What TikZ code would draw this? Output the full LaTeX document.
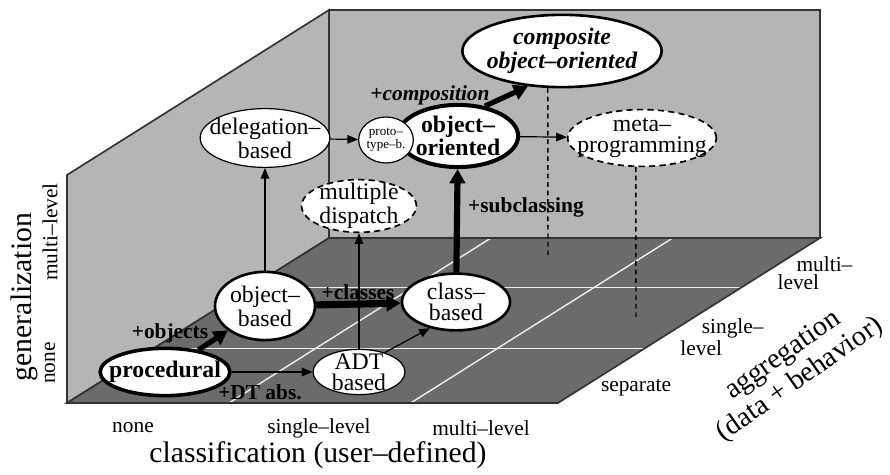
\documentclass[tikz,border=0pt]{standalone}
\usepackage{fontspec}
\setmainfont{Liberation Serif}
\usetikzlibrary{shapes.geometric, arrows.meta, calc}

\definecolor{wallgray}{gray}{0.71}
\definecolor{floorgray}{gray}{0.42}
\definecolor{gridwhite}{gray}{0.93}
\definecolor{edgegray}{gray}{0.2}

\begin{document}
\begin{tikzpicture}[x=1.48mm, y=1.48mm,
  para/.style={draw, ellipse, fill=white, align=center, inner xsep=-6pt, inner ysep=-3pt, line width=0.5pt, font={\fontsize{10}{9}\selectfont}},
  strongpara/.style={para, line width=1.1pt},
  corepara/.style={para, line width=1.5pt, font={\fontsize{10}{9.5}\selectfont\bfseries}},
  dashpara/.style={para, line width=0.7pt, dash pattern=on 2.6pt off 1.8pt},
  thinarrow/.style={-{Triangle[length=4.5pt, width=3.6pt]}, line width=0.5pt},
  boldarrow/.style={-{Triangle[length=6pt, width=6.5pt]}, line width=2.2pt},
  dropline/.style={line width=0.6pt, dash pattern=on 2pt off 1.6pt},
  steplabel/.style={font=\small\bfseries},
  axislabel/.style={font={\fontsize{9}{7.5}\selectfont}},
  axistitle/.style={font={\fontsize{12.5}{13}\selectfont}}]
\useasboundingbox (0,0) rectangle (89,47.5);

% corners of the box: floor, side wall, back wall
\coordinate (fl) at (6.7,7.2);
\coordinate (fr) at (55.8,7.2);
\coordinate (br) at (82.0,23.7);
\coordinate (bl) at (32.9,23.7);
\coordinate (wl) at (6.7,30.0);
\coordinate (tl) at (32.9,46.5);
\coordinate (tr) at (82.0,46.5);

\filldraw[fill=wallgray, draw=edgegray, line width=0.7pt] (fl) -- (wl) -- (tl) -- (bl) -- cycle;
\filldraw[fill=wallgray, draw=edgegray, line width=0.7pt] (bl) -- (tl) -- (tr) -- (br) -- cycle;
\fill[floorgray] (fl) -- (fr) -- (br) -- (bl) -- cycle;

% grid on the floor
\foreach \f in {0.33, 0.70} {
  \draw[gridwhite, line width=0.6pt] ($(fl)!\f!(bl)$) -- ($(fr)!\f!(br)$);
  \draw[gridwhite, line width=0.6pt] ($(fl)!\f!(fr)$) -- ($(bl)!\f!(br)$);
}
\draw[edgegray, line width=0.7pt] (fl) -- (fr) -- (br) -- (bl) -- cycle;

% paradigms
\node (procedural) [corepara, minimum width=19.2mm, minimum height=7.0mm] at (16.5,10.3) {procedural};
\node (objbased) [strongpara, minimum width=14.8mm, minimum height=10.1mm] at (26.5,16.9) {object--\\based};
\node (adt) [para, minimum width=13.6mm, minimum height=6.7mm] at (35.9,10.3) {ADT\\based};
\node (classbased) [strongpara, minimum width=16.0mm, minimum height=8.4mm] at (45.6,17.3) {class--\\based};
\node (deleg) [para, minimum width=19.2mm, minimum height=8.7mm] at (26.5,33.7) {delegation--\\based};
\node (multdisp) [dashpara, minimum width=17.0mm, minimum height=7.8mm] at (35.9,26.9) {multiple\\dispatch};
\node (oo) [corepara, line width=1.7pt, minimum width=17.8mm, minimum height=9.2mm] at (45.8,33.9) {object--\\oriented};
\node (proto) [para, minimum width=8.1mm, minimum height=6.8mm, font={\fontsize{5.5}{5.5}\selectfont}] at (38.6,33.5) {proto--\\type--b.};
\node (composite) [strongpara, minimum width=29.5mm, minimum height=10.7mm, font={\fontsize{10}{10}\selectfont\bfseries\itshape}] at (56.2,42.4) {composite\\object--oriented};
\node (meta) [dashpara, minimum width=22.0mm, minimum height=8.4mm] at (64.2,33.7) {meta--\\programming};

% steps between paradigms
\draw[boldarrow] (procedural) -- (objbased);
\draw[thinarrow] (procedural) -- (adt);
\draw[boldarrow, line width=3pt] (objbased) -- (classbased);
\draw[thinarrow] (adt.37) -- (classbased.225);
\draw[thinarrow] (adt) -- (multdisp);
\draw[thinarrow] (objbased) -- (deleg);
\draw[thinarrow] (deleg) -- (proto);
\draw[boldarrow, line width=2.6pt] (classbased) -- (oo);
\draw[boldarrow] (oo.48) -- (composite.226);
\draw[thinarrow] (oo) -- (meta);

% drop lines down to the floor
\coordinate (compfoot) at (54.8,21.7);
\coordinate (metafoot) at (63.6,15.7);
\draw[dropline] (composite.249) -- (compfoot);
\draw[dropline] (meta.258) -- (metafoot);

\node (objlbl) [steplabel] at (17.0,14.2) {+objects};
\node (dtlbl) [steplabel] at (26.0,8.3) {+DT abs.};
\node (classlbl) [steplabel] at (35.8,18.3) {+classes};
\node (sublbl) [steplabel] at (52.6,26.8) {+subclassing};
\node (complbl) [steplabel, font=\small\bfseries\itshape] at (43.0,38.0) {+composition};

% axes
\node (gentitle) [axistitle, rotate=90] at (2.4,17.8) {generalization};
\node (genmulti) [axislabel, rotate=90] at (5.0,24.3) {multi--level};
\node (gennone) [axislabel, rotate=90] at (5.0,11.2) {none};

\node (clsnone) [axislabel] at (13.3,4.7) {none};
\node (clssingle) [axislabel] at (31.9,4.7) {single--level};
\node (clsmulti) [axislabel] at (48.1,4.7) {multi--level};
\node (clstitle) [axistitle] at (31.8,2.0) {classification (user--defined)};

\node (aggsep) [axislabel] at (63.6,8.7) {separate};
\node (aggsingle) [axislabel, align=left] at (72.2,13.8) {\hspace*{9pt}single--\\level};
\node (aggmulti) [axislabel, align=left] at (81.5,20.2) {\hspace*{8pt}multi--\\level};
\node (aggtitle) [axistitle, font={\fontsize{12}{12.5}\selectfont}, rotate=35, align=center] at (79.2,10.7) {aggregation\\(data + behavior)};
\end{tikzpicture}
\end{document}
